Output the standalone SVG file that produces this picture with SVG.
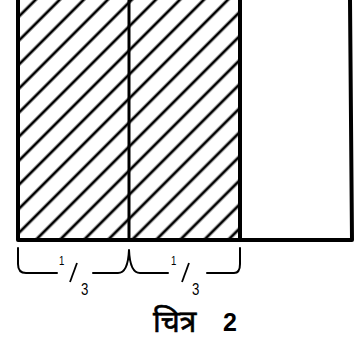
<svg xmlns="http://www.w3.org/2000/svg" width="363" height="343" viewBox="0 0 363 343">
<style>
.edge{fill:none;stroke:#000;stroke-linecap:round;stroke-linejoin:round}
.hatch{stroke:#000;stroke-width:2.8}
.frac{font-family:"Liberation Sans",Arial,sans-serif;fill:#000}
.dev{font-family:"Noto Sans","Noto Sans Devanagari","Liberation Sans",sans-serif;font-size:30px;fill:#000;stroke:#000;stroke-width:0.6}
.num{font-family:"Liberation Sans",Arial,sans-serif;font-size:25px;font-weight:bold;fill:#000}
</style>
<defs>
<pattern id="hp" patternUnits="userSpaceOnUse" width="17" height="17" patternTransform="rotate(-45)">
<line x1="0" y1="8" x2="17" y2="8" class="hatch"/>
</pattern>
</defs>
<rect id="cell1" x="18" y="-2" width="111" height="242" fill="url(#hp)"/>
<rect id="cell2" x="129" y="-2" width="111" height="242" fill="url(#hp)"/>
<g id="frame">
<path class="edge" d="M18,0 L18,240 L352,240 L350,0" stroke-width="4"/>
<line class="edge" x1="129" y1="0" x2="129" y2="240" stroke-width="3"/>
<line class="edge" x1="240" y1="0" x2="240" y2="240" stroke-width="4"/>
</g>
<g id="braces" class="edge" stroke-width="2">
<path d="M18,248 L18,264 Q18,273 26,273 L57,273"/>
<path d="M93,273 L118,273 Q128,273 129,250 Q130,273 140,273 L168,273"/>
<path d="M207,273 L234,273 Q240,273 240,264 L240,248"/>
</g>
<g id="labels">
<text class="frac" font-size="12" transform="translate(59,265) scale(0.8,1)">1</text>
<line x1="70" y1="282" x2="77" y2="263" stroke="#000" stroke-width="1.8"/>
<text class="frac" font-size="17" transform="translate(81,295) scale(0.78,1)">3</text>
<text class="frac" font-size="12" transform="translate(171,265) scale(0.8,1)">1</text>
<line x1="182" y1="282" x2="189" y2="263" stroke="#000" stroke-width="1.8"/>
<text class="frac" font-size="17" transform="translate(192,295) scale(0.78,1)">3</text>
<text class="dev" x="153" y="332">चित्र</text>
<text class="num" x="223" y="331">2</text>
</g>
</svg>
